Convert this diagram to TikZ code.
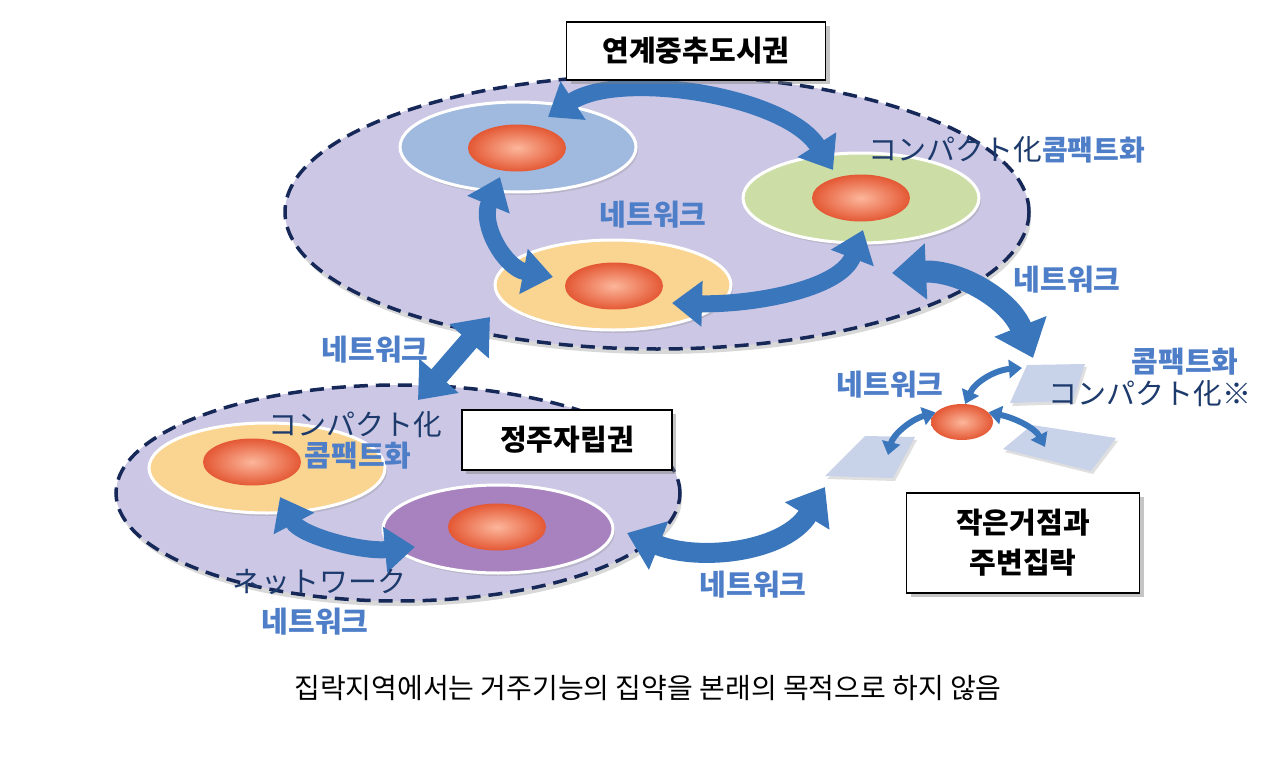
\documentclass[tikz,border=0pt]{standalone}
\usepackage{fontspec}
\newfontfamily\krfont{Noto Sans CJK KR}
\usepackage{tikz}
\usetikzlibrary{calc}
\usetikzlibrary{arrows.meta}
\usetikzlibrary{shapes.geometric}
\usetikzlibrary{shadows}

\definecolor{regionfill}{RGB}{204,199,228}
\definecolor{regionline}{RGB}{22,40,88}
\definecolor{arrowblue}{RGB}{58,118,188}
\definecolor{labelblue}{RGB}{78,126,200}
\definecolor{jpnavy}{RGB}{28,58,108}
\definecolor{areablue}{RGB}{160,185,222}
\definecolor{areagreen}{RGB}{204,222,166}
\definecolor{areayellow}{RGB}{250,212,145}
\definecolor{areapurple}{RGB}{168,130,190}
\definecolor{coreinner}{RGB}{252,182,155}
\definecolor{coreouter}{RGB}{228,88,52}
\definecolor{plotfill}{RGB}{200,210,232}

\begin{document}
\begin{tikzpicture}[x=1pt, y=-1pt,
  region/.style={ellipse, inner sep=0pt, fill=regionfill, draw=regionline, line width=3.5pt,
    dash pattern=on 14pt off 8pt, drop shadow={shadow xshift=2pt, shadow yshift=-5pt, opacity=0.3}},
  area/.style={ellipse, inner sep=0pt, minimum width=236pt, minimum height=90pt, draw=white,
    line width=3pt, drop shadow={shadow xshift=2pt, shadow yshift=-3pt, opacity=0.25}},
  core/.style={ellipse, inner sep=0pt, minimum width=98pt, minimum height=47pt,
    shading=radial, inner color=coreinner, outer color=coreouter},
  titlebox/.style={draw=black, line width=1.8pt, fill=white, inner sep=0pt,
    font=\krfont\bfseries\fontsize{29}{40}\selectfont,
    drop shadow={shadow xshift=4pt, shadow yshift=-4pt, opacity=0.45}},
  netlabel/.style={text=labelblue, font=\krfont\bfseries\fontsize{29}{30}\selectfont, inner sep=0pt},
  jplabel/.style={text=jpnavy, font=\krfont\fontsize{29}{30}\selectfont, inner sep=0pt},
  bigarrow/.style={draw=arrowblue, line width=17pt, >={Triangle[length=30pt,width=44pt]}, <->},
  smallarrow/.style={draw=arrowblue, line width=6pt, >={Triangle[length=13pt,width=18pt]}, <->},
  plot/.style={fill=plotfill, drop shadow={shadow xshift=2pt, shadow yshift=-3pt, opacity=0.25}}
]
\fill[white] (0,0) rectangle (1280,760);

\node[region, minimum width=744pt, minimum height=274pt] (hubregion) at (657,212) {};
\node[region, minimum width=564pt, minimum height=216pt] (selfregion) at (398,493) {};

\node[area, fill=areablue] (bluearea) at (518,147) {};
\node[area, fill=areagreen] (greenarea) at (861,198) {};
\node[area, fill=areayellow] (yellowarea) at (613,285) {};
\node[area, fill=areayellow] (leftarea) at (267,468) {};
\node[area, fill=areapurple, minimum width=230pt, minimum height=88pt] (purplearea) at (498,529) {};

\node[core] (bluecore) at (517,148) {};
\node[core] (greencore) at (861,198) {};
\node[core] (yellowcore) at (614,286) {};
\node[core] (leftcore) at (252,462) {};
\node[core] (purplecore) at (497,527) {};

\fill[plot] (1027,365) -- (1085,364) -- (1073,401) -- (1010,403) -- cycle;
\fill[plot] (865,436) -- (915,437) -- (893,478) -- (825,476) -- cycle;
\fill[plot] (1003,449) -- (1032,425) -- (1116,438) -- (1091,471) -- cycle;
\node[core, minimum width=62pt, minimum height=36pt] (spotcore) at (962,422) {};

\coordinate (blue-top) at (548,117);
\coordinate (green-top) at (833,170);
\coordinate (blue-bot) at (500,177);
\coordinate (yellow-left) at (553,277);
\coordinate (green-bot) at (863,230);
\coordinate (yellow-right) at (672,303);
\coordinate (hub-exit) at (892,273);
\coordinate (spot-in) at (1033,358);
\coordinate (hub-low) at (490,317);
\coordinate (self-top) at (418,400);
\coordinate (left-bot) at (280,497);
\coordinate (purple-left) at (415,547);
\coordinate (purple-right) at (627,533);
\coordinate (spot-left) at (825,487);
\coordinate (plot-n) at (1022,368);
\coordinate (plot-w) at (888,455);
\coordinate (plot-e) at (1045,447);

\draw[bigarrow] (blue-top) .. controls (620,70) and (785,95) .. (green-top);
\draw[bigarrow] (blue-bot) .. controls (480,225) and (505,268) .. (yellow-left);
\draw[bigarrow] (green-bot) .. controls (840,290) and (750,305) .. (yellow-right);
\draw[bigarrow, line width=22pt, >={Triangle[length=34pt,width=54pt]}] (hub-exit) .. controls (960,270) and (1010,300) .. (spot-in);
\draw[bigarrow, line width=20pt, >={Triangle[length=32pt,width=50pt]}] (hub-low) -- (self-top);
\draw[bigarrow] (left-bot) .. controls (300,535) and (360,552) .. (purple-left);
\draw[bigarrow, line width=20pt, >={Triangle[length=34pt,width=50pt]}] (purple-right) .. controls (700,562) and (785,552) .. (spot-left);
\draw[smallarrow] (spotcore.80) .. controls (975,382) and (995,370) .. (plot-n);
\draw[smallarrow] (spotcore.160) .. controls (910,420) and (893,435) .. (plot-w);
\draw[smallarrow] (spotcore.20) .. controls (1015,418) and (1035,428) .. (plot-e);

\node[titlebox, minimum width=259pt, minimum height=58pt] (hubtitle) at (696,51) {연계중추도시권};
\node[titlebox, minimum width=210pt, minimum height=60pt] (selftitle) at (567,440) {정주자립권};
\node[titlebox, minimum width=233pt, minimum height=100pt, align=center] (spottitle) at (1023,543) {작은거점과\\주변집락};

\node[netlabel] (net-hub) at (653,215) {네트워크};
\node[netlabel] (net-spot) at (1067,280) {네트워크};
\node[netlabel] (net-between) at (375,350) {네트워크};
\node[netlabel] (net-small) at (890,385) {네트워크};
\node[netlabel] (net-low) at (753,585) {네트워크};
\node[netlabel] (net-self) at (315,622) {네트워크};
\node[jplabel, anchor=west] (compact-hub) at (868,150) {コンパクト化{\color{labelblue}\bfseries\fontsize{28}{30}\selectfont 콤팩트화}};
\node[jplabel] (compact-self-jp) at (355,425) {コンパクト化};
\node[netlabel] (compact-self-kr) at (358,456) {콤팩트화};
\node[jplabel] (network-self-jp) at (319,582) {ネットワーク};
\node[netlabel] (compact-spot-kr) at (1185,362) {콤팩트화};
\node[jplabel] (compact-spot-jp) at (1150,394) {コンパクト化※};

\node[font=\krfont\fontsize{28}{30}\selectfont, inner sep=0pt] (caption) at (648,688) {집락지역에서는 거주기능의 집약을 본래의 목적으로 하지 않음};
\end{tikzpicture}
\end{document}
